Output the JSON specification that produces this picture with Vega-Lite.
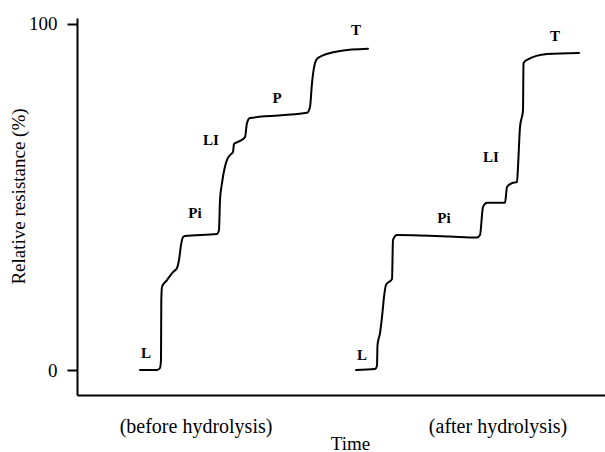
{
  "$schema": "https://vega.github.io/schema/vega-lite/v6.json",
  "width": 528,
  "height": 377,
  "autosize": {"type": "none"},
  "padding": {"left": 77, "top": 18, "right": 0, "bottom": 57},
  "background": "white",
  "config": {"view": {"stroke": null}, "font": "Liberation Serif"},
  "datasets": {
    "curves": [
      {"t": 63, "r": 0, "run": "before"},
      {"t": 80, "r": 0, "run": "before"},
      {"t": 83, "r": 0.6, "run": "before"},
      {"t": 84, "r": 2.9, "run": "before"},
      {"t": 84.3, "r": 20.2, "run": "before"},
      {"t": 85, "r": 24.0, "run": "before"},
      {"t": 90, "r": 26.0, "run": "before"},
      {"t": 96, "r": 28.3, "run": "before"},
      {"t": 100, "r": 29.5, "run": "before"},
      {"t": 102, "r": 31.8, "run": "before"},
      {"t": 104, "r": 36.1, "run": "before"},
      {"t": 106, "r": 38.4, "run": "before"},
      {"t": 108, "r": 38.7, "run": "before"},
      {"t": 140, "r": 39.3, "run": "before"},
      {"t": 142, "r": 40.5, "run": "before"},
      {"t": 143, "r": 49.1, "run": "before"},
      {"t": 145, "r": 54.0, "run": "before"},
      {"t": 150, "r": 60.7, "run": "before"},
      {"t": 153, "r": 62.1, "run": "before"},
      {"t": 156, "r": 63.0, "run": "before"},
      {"t": 157, "r": 65.3, "run": "before"},
      {"t": 161, "r": 65.9, "run": "before"},
      {"t": 168, "r": 67.3, "run": "before"},
      {"t": 170, "r": 71.4, "run": "before"},
      {"t": 173, "r": 72.8, "run": "before"},
      {"t": 230, "r": 74.3, "run": "before"},
      {"t": 233, "r": 76.0, "run": "before"},
      {"t": 235, "r": 82.9, "run": "before"},
      {"t": 238, "r": 88.7, "run": "before"},
      {"t": 241, "r": 90.2, "run": "before"},
      {"t": 263, "r": 92.2, "run": "before"},
      {"t": 291, "r": 92.8, "run": "before"},
      {"t": 279, "r": 0, "run": "after"},
      {"t": 298, "r": 0.3, "run": "after"},
      {"t": 300, "r": 1.2, "run": "after"},
      {"t": 300.3, "r": 4.9, "run": "after"},
      {"t": 300.5, "r": 7.2, "run": "after"},
      {"t": 303, "r": 10.7, "run": "after"},
      {"t": 305, "r": 15.3, "run": "after"},
      {"t": 307, "r": 21.1, "run": "after"},
      {"t": 309, "r": 24.6, "run": "after"},
      {"t": 315, "r": 26.3, "run": "after"},
      {"t": 316, "r": 37.6, "run": "after"},
      {"t": 320, "r": 39.0, "run": "after"},
      {"t": 343, "r": 38.9, "run": "after"},
      {"t": 373, "r": 38.6, "run": "after"},
      {"t": 400, "r": 38.3, "run": "after"},
      {"t": 403, "r": 39.0, "run": "after"},
      {"t": 406, "r": 47.1, "run": "after"},
      {"t": 410, "r": 48.3, "run": "after"},
      {"t": 428, "r": 48.3, "run": "after"},
      {"t": 430, "r": 52.9, "run": "after"},
      {"t": 435, "r": 54.0, "run": "after"},
      {"t": 440, "r": 54.3, "run": "after"},
      {"t": 441, "r": 58.7, "run": "after"},
      {"t": 443, "r": 70.2, "run": "after"},
      {"t": 446, "r": 75.1, "run": "after"},
      {"t": 446.5, "r": 88.7, "run": "after"},
      {"t": 450, "r": 89.6, "run": "after"},
      {"t": 470, "r": 91.3, "run": "after"},
      {"t": 502, "r": 91.6, "run": "after"}
    ],
    "labels": [
      {"t": 69, "r": 4.9, "label": "L"},
      {"t": 118, "r": 45.4, "label": "Pi"},
      {"t": 134, "r": 66.5, "label": "LI"},
      {"t": 200, "r": 78.6, "label": "P"},
      {"t": 279, "r": 98.3, "label": "T"},
      {"t": 285, "r": 4.3, "label": "L"},
      {"t": 367, "r": 43.9, "label": "Pi"},
      {"t": 414, "r": 61.6, "label": "LI"},
      {"t": 478, "r": 96.5, "label": "T"}
    ],
    "captions": [
      {"t": 119, "r": -18.2, "caption": "(before hydrolysis)"},
      {"t": 421, "r": -18.2, "caption": "(after hydrolysis)"}
    ]
  },
  "layer": [
    {
      "data": {"name": "curves"},
      "mark": {"type": "line", "color": "black", "strokeWidth": 2, "interpolate": "monotone", "strokeJoin": "round", "strokeCap": "round"},
      "encoding": {
        "x": {
          "field": "t", "type": "quantitative",
          "scale": {"domain": [0, 528], "nice": false, "zero": false},
          "axis": {
            "title": "Time", "titleFont": "Liberation Serif", "titleFontSize": 19, "titleFontWeight": "normal", "titleColor": "black",
            "titleX": 273, "titleY": 54, "titleBaseline": "alphabetic",
            "ticks": false, "labels": false, "grid": false,
            "domainColor": "black", "domainWidth": 2
          }
        },
        "y": {
          "field": "r", "type": "quantitative",
          "scale": {"domain": [-7.2, 101.7], "nice": false, "zero": false},
          "axis": {
            "title": "Relative resistance (%)", "titleFont": "Liberation Serif", "titleFontSize": 19, "titleFontWeight": "normal", "titleColor": "black",
            "titleX": -53, "titleY": 178, "titleAngle": -90, "titleAlign": "center", "titleBaseline": "alphabetic",
            "values": [0, 100], "grid": false,
            "tickSize": 10, "tickWidth": 2, "tickColor": "black",
            "labelFont": "Liberation Serif", "labelFontSize": 19, "labelColor": "black", "labelPadding": 10,
            "domainColor": "black", "domainWidth": 2
          }
        },
        "detail": {"field": "run"}
      }
    },
    {
      "data": {"name": "labels"},
      "mark": {"type": "text", "font": "Liberation Serif", "fontWeight": "bold", "fontSize": 15, "color": "black", "baseline": "middle", "align": "center"},
      "encoding": {
        "x": {"field": "t", "type": "quantitative"},
        "y": {"field": "r", "type": "quantitative"},
        "text": {"field": "label"}
      }
    },
    {
      "data": {"name": "captions"},
      "mark": {"type": "text", "font": "Liberation Serif", "fontSize": 20, "color": "black", "baseline": "alphabetic", "align": "center"},
      "encoding": {
        "x": {"field": "t", "type": "quantitative"},
        "y": {"field": "r", "type": "quantitative"},
        "text": {"field": "caption"}
      }
    }
  ]
}
